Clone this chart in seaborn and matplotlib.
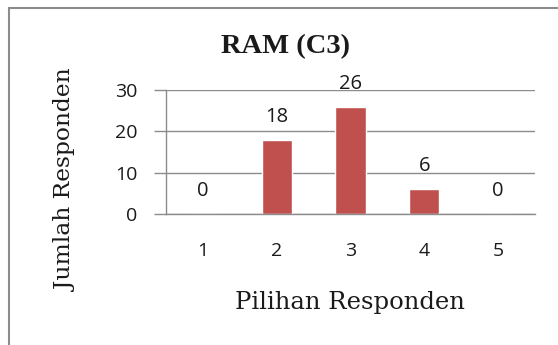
import matplotlib
matplotlib.use("Agg")
import matplotlib.pyplot as plt
import seaborn as sns
import pandas as pd
from matplotlib.patches import Rectangle

# data
choices = ["1", "2", "3", "4", "5"]
counts = [0, 18, 26, 6, 0]
y_ticks = [0, 10, 20, 30]

title = "RAM (C3)"
x_label = "Pilihan Responden"
y_label = "Jumlah Responden"

bar_color = "#C0504D"
grid_color = "#8C8C8C"
text_color = "#1a1a1a"

df = pd.DataFrame({"choice": choices, "count": counts})

sns.set_style("white")
plt.rcParams["font.family"] = ["Open Sans", "DejaVu Sans"]

fig = plt.figure(figsize=(5.58, 3.45), dpi=100)
ax = fig.add_axes([0.2975, 0.3797, 0.6613, 0.3594])

sns.barplot(data=df, x="choice", y="count", order=choices, color=bar_color,
            width=0.41, saturation=1, ax=ax)

ax.set_ylim(0, 30)
ax.set_xlim(-0.5, len(choices) - 0.5)
ax.set_yticks(y_ticks)
ax.yaxis.grid(True, color=grid_color, linewidth=1)
ax.set_axisbelow(True)

# category separators as tick marks
ax.set_xticks([i - 0.5 for i in range(len(choices) + 1)], minor=True)
ax.tick_params(axis="x", which="minor", length=5, color=grid_color, width=1, direction="out")
ax.tick_params(axis="x", which="major", length=0, labelsize=14, pad=20, colors=text_color)
ax.tick_params(axis="y", length=8.5, color=grid_color, width=1, labelsize=14, pad=12,
               colors=text_color, left=True, direction="out")

for s in ["top", "right"]:
    ax.spines[s].set_visible(False)
for s in ["left", "bottom"]:
    ax.spines[s].set_color(grid_color)
    ax.spines[s].set_linewidth(1)

# value labels above bars
for i, v in enumerate(counts):
    ax.annotate(str(v), (i, v), xytext=(0, 16.5), textcoords="offset points",
                ha="center", va="center", fontsize=14.5, color=text_color)

ax.set_xlabel("")
ax.set_ylabel("")
fig.text(0.5125, 0.866, title, ha="center", va="center", fontsize=20.5,
         fontweight="bold", family=["Liberation Serif", "DejaVu Serif"], color=text_color)
fig.text(0.627, 0.1246, x_label, ha="center", va="center", fontsize=17.5,
         family=["DejaVu Serif"], color=text_color)
fig.text(0.118, 0.478, y_label, ha="center", va="center", fontsize=16.8,
         rotation=90, family=["DejaVu Serif"], color=text_color)

# outer frame (only top and left edges visible)
fig.patches.append(Rectangle((8.5 / 558, -0.05), 1.0, 1.05 - 7.5 / 345,
                             transform=fig.transFigure, fill=False,
                             edgecolor="#8C8C8C", linewidth=1.5))

fig.savefig("out.png", dpi=100, facecolor="white")
